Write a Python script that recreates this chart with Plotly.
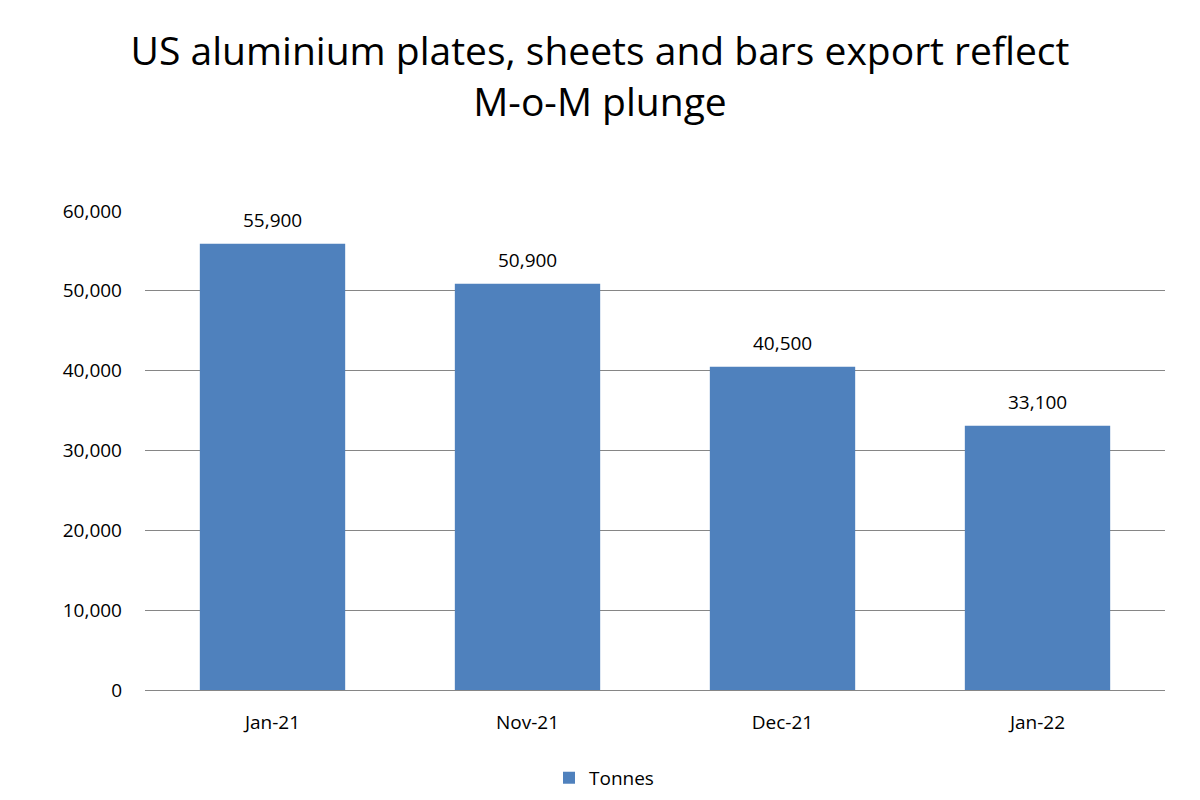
import plotly.graph_objects as go

MONTHS = ["Jan-21", "Nov-21", "Dec-21", "Jan-22"]
TONNES = [55900, 50900, 40500, 33100]
Y_TICKS = [0, 10000, 20000, 30000, 40000, 50000, 60000]

BAR_COLOR = "#4F81BD"
GRID = "#868686"
FONT = "Open Sans, Liberation Sans, sans-serif"

fig = go.Figure(
    go.Bar(
        x=MONTHS,
        y=TONNES,
        name="Tonnes",
        marker=dict(color=BAR_COLOR, line=dict(width=0)),
    )
)

# value labels sit a little higher above the bars than plotly's "outside" text
for month, value in zip(MONTHS, TONNES):
    fig.add_annotation(
        x=month,
        y=value,
        text=f"{value:,}",
        showarrow=False,
        yanchor="middle",
        yshift=24,
        font=dict(size=19, color="#000000"),
    )

fig.update_layout(
    width=1184,
    height=784,
    paper_bgcolor="white",
    plot_bgcolor="white",
    font=dict(family=FONT, color="#000000"),
    margin=dict(l=137, r=27, t=203, b=102),
    bargap=0.43,
    showlegend=True,
    title=dict(
        text="US aluminium plates, sheets and bars export reflect<br>M-o-M plunge",
        x=0.5,
        xanchor="center",
        y=0.927,
        yanchor="middle",
        font=dict(size=39, color="#000000"),
    ),
    legend=dict(
        orientation="h",
        x=0.45,
        xanchor="center",
        yref="container",
        y=0.018,
        yanchor="middle",
        font=dict(size=19),
    ),
    xaxis=dict(
        showgrid=False,
        showline=True,
        linecolor=GRID,
        linewidth=1,
        ticks="",
        tickfont=dict(size=19),
        ticklabelstandoff=15,
    ),
    yaxis=dict(
        range=[0, 60000],
        tickvals=Y_TICKS,
        ticktext=[f"{v:,}" for v in Y_TICKS],
        showgrid=True,
        gridcolor=GRID,
        gridwidth=1,
        zeroline=False,
        showline=False,
        ticks="",
        ticklen=0,
        tickfont=dict(size=19),
        ticklabelstandoff=22,
    ),
)

fig.write_html("out.html")
